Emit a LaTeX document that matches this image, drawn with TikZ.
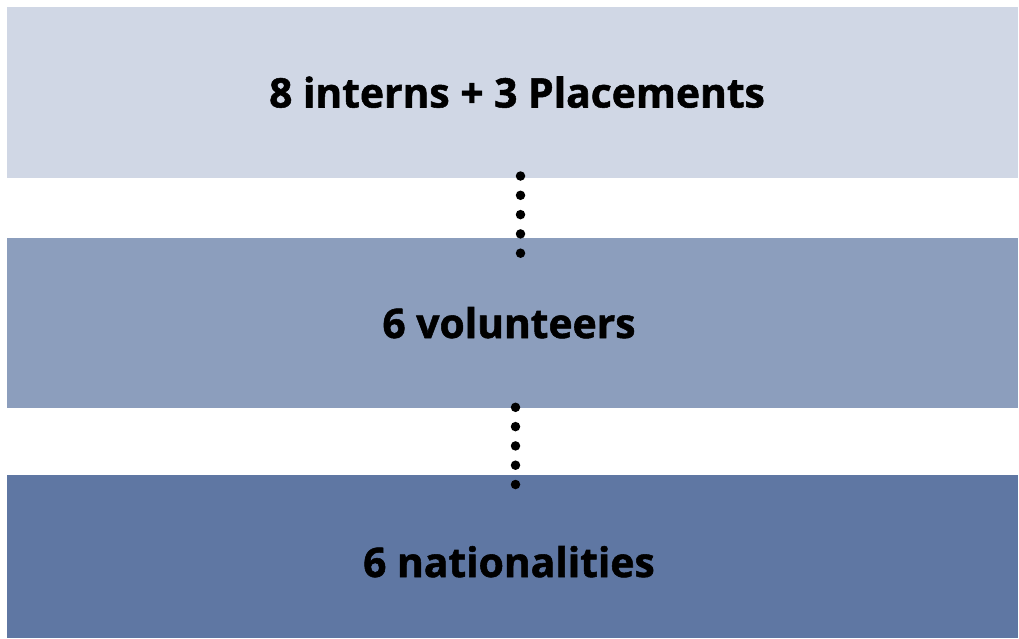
\documentclass[tikz,border=0pt]{standalone}
\usepackage{fontspec}
\setmainfont{Open Sans}[BoldFeatures={FakeBold=1.3}]
\definecolor{boxA}{HTML}{D0D7E5}
\definecolor{boxB}{HTML}{8C9EBD}
\definecolor{boxC}{HTML}{5F77A3}
\begin{document}
\begin{tikzpicture}[x=1pt,y=-1pt,
  label/.style={font=\fontsize{40.8}{48}\selectfont\bfseries,text=black,inner sep=0pt,anchor=base},
  dotline/.style={line width=9.5pt,line cap=round,dash pattern=on 0pt off 19.3pt,black}]
\useasboundingbox (0,0) rectangle (1019,638);
\fill[boxA] (7,7) rectangle (1018,178);
\fill[boxB] (7,238) rectangle (1018,408);
\fill[boxC] (7,475) rectangle (1018,638);
\node[label] (t1) at (517,107.5) {8 interns + 3 Placements};
\node[label] (t2) at (509,338) {6 volunteers};
\node[label] (t3) at (509,577) {6 nationalities};
\coordinate (a1) at (520.5,176);
\coordinate (a2) at (520.5,253.3);
\coordinate (b1) at (515.5,407.3);
\coordinate (b2) at (515.5,484.5);
\draw[dotline] (a1) -- (a2);
\draw[dotline] (b1) -- (b2);
\end{tikzpicture}
\end{document}
